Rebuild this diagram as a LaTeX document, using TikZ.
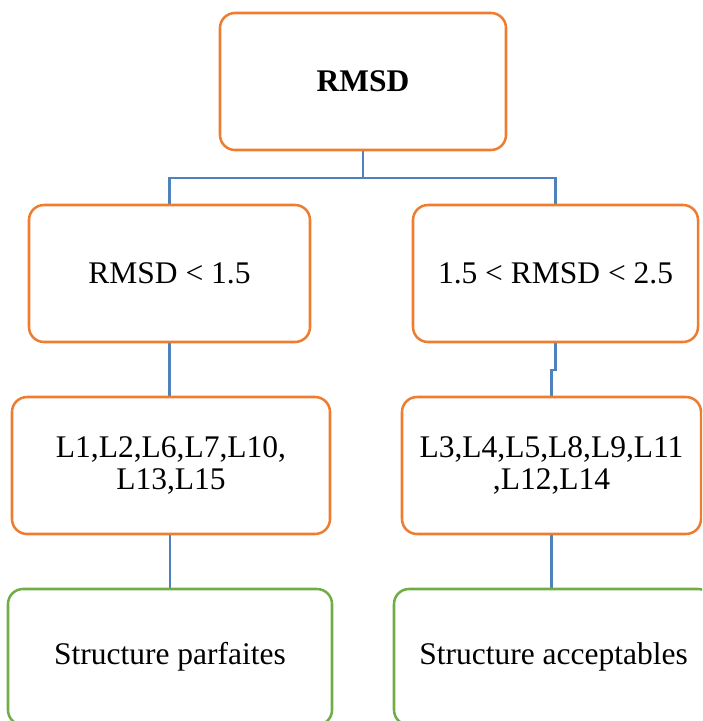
\documentclass[tikz,border=0pt]{standalone}
\usepackage{fontspec}
\setmainfont{Liberation Serif}
\usepackage{tikz}
\pgfdeclarelayer{bg}
\pgfsetlayers{bg,main}
\definecolor{boxorange}{HTML}{ED7D31}
\definecolor{boxgreen}{HTML}{70AD47}
\definecolor{linkblue}{HTML}{4F81BD}
\tikzset{
        box/.style={draw=boxorange, line width=1.8pt, rounded corners=0.375cm,
                inner sep=0pt, outer sep=0pt, minimum height=3.425cm, align=center,
                font=\fontsize{22.4}{22.8}\selectfont},
        leaf/.style={box, draw=boxgreen, minimum height=3.4cm},
        link/.style={draw=linkblue, line width=1.9pt}
}
\begin{document}
\begin{tikzpicture}
        \useasboundingbox (0cm, 0cm) rectangle (17.55cm, -18.025cm);
        \clip (0cm, 0cm) rectangle (17.55cm, -18.025cm);
        \node (b0) [box, minimum width=7.15cm] at (9.075000cm, -2.037500cm) {\textbf{RMSD}};
        \node (b1) [box, minimum width=7.025cm] at (4.237500cm, -6.837500cm) {RMSD < 1.5};
        \node (b2) [box, minimum width=7.125cm] at (13.887500cm, -6.837500cm) {1.5 < RMSD < 2.5};
        \node (b3) [box, minimum width=7.95cm] at (4.275000cm, -11.637500cm) {L1,L2,L6,L7,L10,\\L13,L15};
        \node (b4) [box, minimum width=7.475cm] at (13.787500cm, -11.637500cm) {L3,L4,L5,L8,L9,L11\\,L12,L14};
        \node (b5) [leaf, minimum width=8.1cm] at (4.250000cm, -16.425000cm) {Structure parfaites};
        \node (b6) [leaf, minimum width=7.975cm] at (13.837500cm, -16.425000cm) {Structure acceptables};
        \begin{pgfonlayer}{bg}
                \draw [link] (b0.south) -- ++(0cm, -0.7cm) -| (b1.north);
                \draw [link] (b0.south) -- ++(0cm, -0.7cm) -| (b2.north);
                \draw [link] (b1.south) -- (b1.south |- b3.north);
                \draw [link] (b2.south) -- ++(0cm, -0.7cm) -| (b4.north);
                \draw [link] (b5.north |- b3.south) -- (b5.north);
                \draw [link] (b4.south) -- (b6.north -| b4.south);
        \end{pgfonlayer}
\end{tikzpicture}
\end{document}
